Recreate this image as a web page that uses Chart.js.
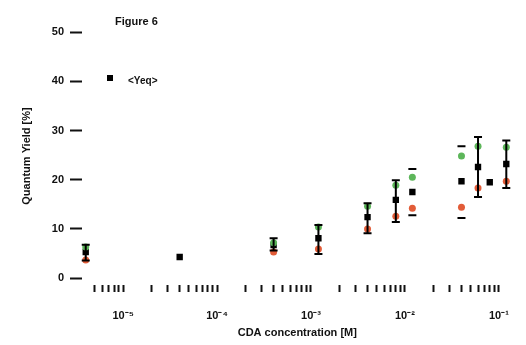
<!DOCTYPE html>
<html>
<head>
<meta charset="utf-8">
<title>Figure 6</title>
<script src="https://cdn.jsdelivr.net/npm/chart.js@4/dist/chart.umd.min.js"></script>
<style>
  html, body { margin: 0; padding: 0; background: #ffffff; }
  #wrap { width: 526px; height: 345px; }
</style>
</head>
<body>
<div id="wrap"><canvas id="chart" width="526" height="345"></canvas></div>
<script>
// CDA concentration [M] for each measurement
const concentration = [4e-6, 4e-5, 4e-4, 1.2e-3, 4e-3, 8e-3, 1.2e-2, 4e-2, 6e-2, 8e-2, 0.12];

// Quantum yield [%]
const yieldGreen = [6.3, null, 7.2, 10.4, 14.6, 18.9, 20.5, 24.8, 26.8, null, 26.6];
const yieldRed   = [3.7, null, 5.3, 5.9, 10.0, 12.6, 14.2, 14.4, 18.3, null, 19.7];
const yieldEq    = [5.3, 4.3, 6.7, 8.1, 12.4, 15.9, 17.5, 19.7, 22.6, 19.5, 23.2];

// error bar limits of the equilibrium series
const eqLow  = [3.6, null, 5.6, 4.9, 9.1, 11.4, null, null, 16.5, null, 18.3];
const eqHigh = [6.8, null, 8.1, 10.8, 15.2, 19.9, null, null, 28.7, null, 28.0];

// standalone range limits (caps only)
const rangeConc  = [1.2e-2, 1.2e-2, 4e-2, 4e-2];
const rangeLimit = [12.8, 22.2, 12.2, 26.8];

// axis ticks
const yTicks = [0, 10, 20, 30, 40, 50];
const xDecades = [1e-5, 1e-4, 1e-3, 1e-2, 1e-1];
const xDecadeLabels = ['10⁻⁵', '10⁻⁴', '10⁻³', '10⁻²', '10⁻¹'];

const GREEN = '#5db65a';
const RED = '#e25c38';
const BLACK = '#000000';
const FONT = 'Liberation Sans, Arial, sans-serif';

function toPoints(xs, ys) {
  return xs.map((x, i) => ({ x: x, y: ys[i] })).filter(p => p.y !== null);
}

// vertical error bars for the equilibrium series
const errorBars = {
  id: 'errorBars',
  afterDatasetsDraw(chart) {
    const xs = chart.scales.x, ys = chart.scales.y;
    const ctx = chart.ctx;
    ctx.save();
    ctx.strokeStyle = BLACK;
    ctx.lineWidth = 2;
    concentration.forEach((c, i) => {
      if (eqLow[i] === null || eqHigh[i] === null) return;
      const px = xs.getPixelForValue(c);
      const y1 = ys.getPixelForValue(eqLow[i]);
      const y2 = ys.getPixelForValue(eqHigh[i]);
      ctx.beginPath();
      ctx.moveTo(px, y1); ctx.lineTo(px, y2);
      ctx.moveTo(px - 4, y1); ctx.lineTo(px + 4, y1);
      ctx.moveTo(px - 4, y2); ctx.lineTo(px + 4, y2);
      ctx.stroke();
    });
    ctx.restore();
  }
};

// figure caption and the key for the equilibrium series
const captions = {
  id: 'captions',
  afterDraw(chart) {
    const ctx = chart.ctx;
    const a = chart.chartArea;
    const ds = chart.data.datasets[2];
    ctx.save();
    ctx.fillStyle = '#111';
    ctx.font = 'bold 11px ' + FONT;
    ctx.textBaseline = 'middle';
    ctx.textAlign = 'left';
    ctx.fillText('Figure 6', a.left + 33, 22);
    ctx.fillStyle = ds.backgroundColor;
    ctx.fillRect(a.left + 25, 75, 6, 6);
    ctx.fillStyle = '#111';
    ctx.font = 'bold 10px ' + FONT;
    ctx.fillText(ds.label, a.left + 46, 81);
    ctx.restore();
  }
};

new Chart(document.getElementById('chart'), {
  type: 'scatter',
  data: {
    datasets: [
      {
        label: 'green',
        data: toPoints(concentration, yieldGreen),
        backgroundColor: GREEN, borderColor: GREEN,
        pointStyle: 'circle', pointRadius: 3.5, borderWidth: 0
      },
      {
        label: 'red',
        data: toPoints(concentration, yieldRed),
        backgroundColor: RED, borderColor: RED,
        pointStyle: 'circle', pointRadius: 3.5, borderWidth: 0
      },
      {
        label: '<Yeq>',
        data: toPoints(concentration, yieldEq),
        backgroundColor: BLACK, borderColor: BLACK,
        pointStyle: 'rect', pointRadius: 4.5, borderWidth: 0
      },
      {
        label: 'range',
        data: toPoints(rangeConc, rangeLimit),
        backgroundColor: BLACK, borderColor: BLACK,
        pointStyle: 'line', pointRadius: 4, borderWidth: 2
      }
    ]
  },
  options: {
    responsive: false,
    animation: false,
    layout: { padding: { left: 12, right: 4, top: 27, bottom: 0 } },
    plugins: {
      legend: { display: false },
      tooltip: { enabled: false },
      title: { display: false }
    },
    scales: {
      x: {
        type: 'logarithmic',
        min: 3.65e-6,
        max: 0.14,
        border: { display: false },
        grid: {
          drawOnChartArea: false, drawTicks: true,
          tickLength: 7, tickColor: '#111', tickWidth: 2
        },
        afterBuildTicks(scale) {
          scale.ticks = scale.ticks.filter(t => {
            const e = Math.floor(Math.log10(t.value) + 1e-9);
            const s = t.value / Math.pow(10, e);
            return Math.abs(s - Math.round(s)) < 1e-6;
          });
        },
        ticks: {
          autoSkip: false,
          maxRotation: 0,
          padding: 17,
          color: '#111',
          font: { family: FONT, size: 11, weight: 'bold' },
          callback(value) {
            const k = xDecades.findIndex(d => Math.abs(value / d - 1) < 1e-6);
            return k >= 0 ? xDecadeLabels[k] : '';
          }
        },
        title: {
          display: true,
          text: 'CDA concentration [M]',
          color: '#111',
          font: { family: FONT, size: 11, weight: 'bold' },
          padding: { top: 0, bottom: 5 }
        },
        afterFit(scale) { scale.height = 60; }
      },
      y: {
        type: 'linear',
        min: -1.4,
        max: 51.05,
        border: { display: false },
        grid: {
          drawOnChartArea: false, drawTicks: true,
          tickLength: 12, tickColor: '#111', tickWidth: 2
        },
        afterBuildTicks(scale) {
          scale.ticks = yTicks.map(v => ({ value: v }));
        },
        ticks: {
          padding: 6,
          color: '#111',
          font: { family: FONT, size: 11, weight: 'bold' }
        },
        title: {
          display: true,
          text: 'Quantum Yield [%]',
          color: '#111',
          font: { family: FONT, size: 11, weight: 'bold' },
          padding: { top: 8, bottom: 0 }
        },
        afterFit(scale) { scale.width = 70; }
      }
    }
  },
  plugins: [errorBars, captions]
});
</script>
</body>
</html>
